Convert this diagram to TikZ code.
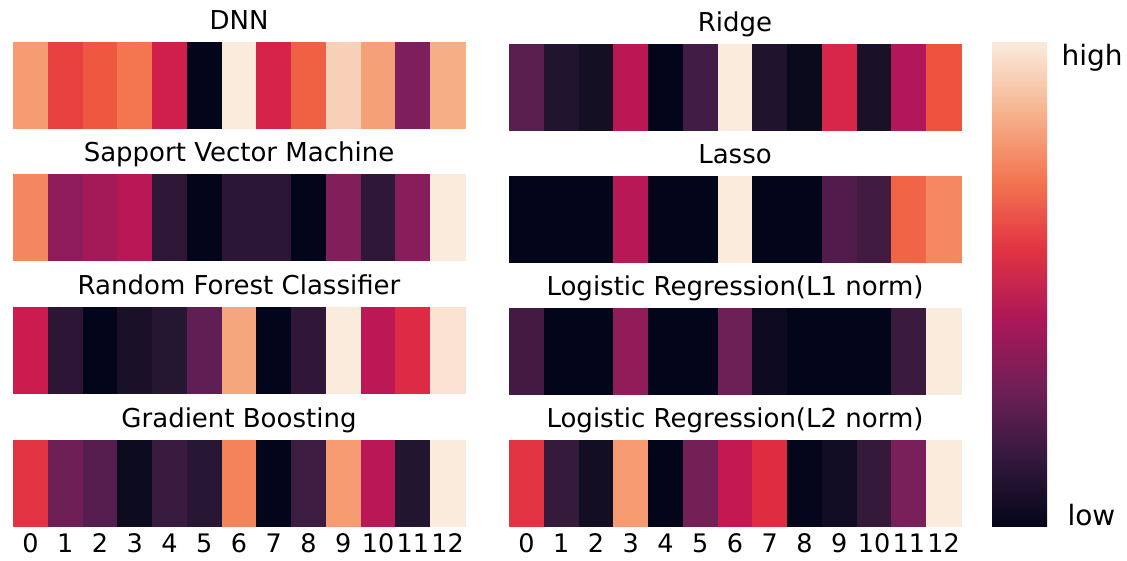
\documentclass[tikz,border=0pt]{standalone}
\usepackage{fontspec}
\setmainfont{DejaVu Sans}
\usepackage{xcolor}

% rocket colour map stops
\definecolor{rk0}{HTML}{03051A}
\definecolor{rk1}{HTML}{35193E}
\definecolor{rk2}{HTML}{701F57}
\definecolor{rk3}{HTML}{AD1759}
\definecolor{rk4}{HTML}{E13342}
\definecolor{rk5}{HTML}{F37651}
\definecolor{rk6}{HTML}{F6B48F}
\definecolor{rk7}{HTML}{FAEBDD}
\pgfdeclareverticalshading{rocket}{100bp}{color(0bp)=(rk0); color(25bp)=(rk0);
  color(32.14bp)=(rk1); color(39.29bp)=(rk2); color(46.43bp)=(rk3);
  color(53.57bp)=(rk4); color(60.71bp)=(rk5); color(67.86bp)=(rk6);
  color(75bp)=(rk7); color(100bp)=(rk7)}

\newcommand{\cellw}{34.77}
% one heat map row: left x, top y, bottom y, colours
\newcommand{\heatrow}[4]{%
  \foreach \hc [count=\k from 0] in {#4} {
    \definecolor{heatcell}{HTML}{\hc}
    \fill[heatcell] ({#1+\k*\cellw},#2) rectangle ({#1+(\k+1)*\cellw+0.5},#3);
  }}

\begin{document}
\begin{tikzpicture}[x=1pt,y=-1pt,
    title/.style={font=\fontsize{26}{30}\selectfont,anchor=base},
    tick/.style={font=\fontsize{25.5}{30}\selectfont,anchor=base},
    barlabel/.style={font=\fontsize{28}{32}\selectfont,anchor=base west}]
  \useasboundingbox (0,0) rectangle (1127,560);

  % left column
  \heatrow{13}{42}{129}{F69C73,E83F3F,EF5740,F37651,D11F4B,03051A,FAEBDD,D52349,F06043,F7D0B7,F5A077,7E1E5C,F6AE85}
  \heatrow{13}{174}{261}{F4875F,8E1C5A,A31A58,BA1756,2E1636,03051A,2B1637,2B1637,03051A,821E5A,2F1737,871E5B,FAEBDD}
  \heatrow{13}{307}{394}{CB1B4F,2D1536,03051A,1A1128,251631,601F54,F5A67D,03051A,301738,FAEBDC,BD1856,DE2B45,FAE1D1}
  \heatrow{13}{440}{527}{E23342,6D1F55,551D4D,0D0B20,391B3F,281734,F4835B,03051A,3D1C41,F69B72,BA1756,22152F,FAEBDD}
  \node[title] (tdnn) at (239,29) {DNN};
  \node[title] (tsvm) at (239,161) {Sapport Vector Machine};
  \node[title] (trfc) at (239,294) {Random Forest Classifier};
  \node[title] (tgb) at (239,427) {Gradient Boosting};

  % right column
  \heatrow{509}{44}{131}{5A1E4F,20142E,150F24,BB1755,03051A,411C44,FAEBDD,1F132E,0B0A1D,D8264A,1A1128,B2175A,EF523F}
  \heatrow{509}{176}{263}{03051A,03051A,03051A,B91856,03051A,03051A,FAEBDD,03051A,03051A,511C4C,421B43,F16446,F58860}
  \heatrow{509}{308}{395}{431B42,03051A,03051A,901D5A,03051A,03051A,6D2055,0E0A21,03051A,03051A,03051A,3A1B3E,FAEBDD}
  \heatrow{509}{440}{527}{E13342,361A3C,140E24,F69B71,03051A,722056,C31851,DE2D41,05061C,120C24,35193B,791F59,FAEBDD}
  \node[title] (tridge) at (735,31) {Ridge};
  \node[title] (tlasso) at (735,163) {Lasso};
  \node[title] (tlone) at (735,295) {Logistic Regression(L1 norm)};
  \node[title] (tltwo) at (735,427) {Logistic Regression(L2 norm)};

  % tick labels
  \foreach \k in {0,...,12} {
    \node[tick] (tl\k) at ({13+(\k+0.5)*\cellw},552) {\k};
    \node[tick] (tr\k) at ({509+(\k+0.5)*\cellw},552) {\k};
  }

  % colour bar
  \shade[shading=rocket] (992,42) rectangle (1047,526);
  \node[barlabel] (high) at (1058,65) {high};
  \node[barlabel] (low) at (1064,525) {low};
\end{tikzpicture}
\end{document}
